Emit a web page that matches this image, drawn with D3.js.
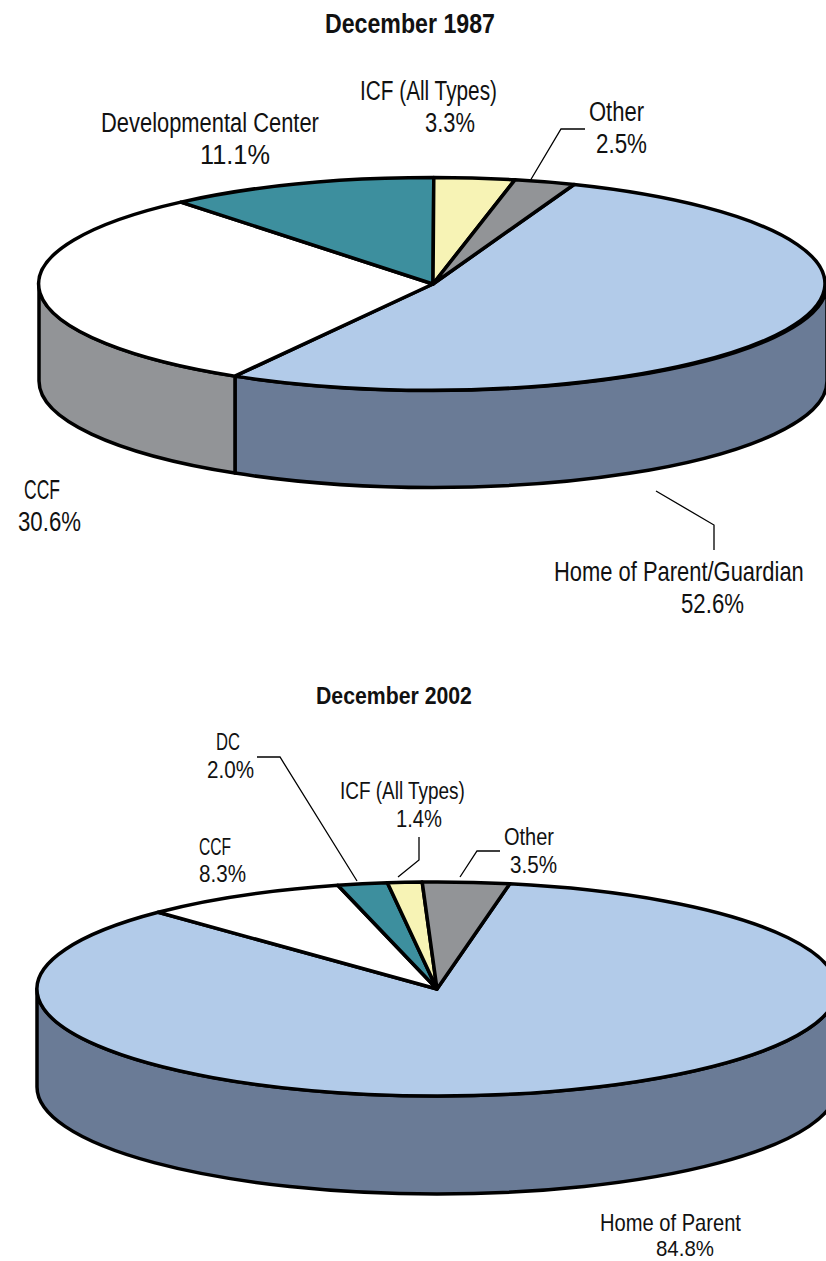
<!DOCTYPE html>
<html>
<head>
<meta charset="utf-8">
<script src="https://cdnjs.cloudflare.com/ajax/libs/d3/7.8.5/d3.min.js"></script>
<style>
  html, body { margin: 0; padding: 0; background: #fff; overflow: hidden; }
  svg { display: block; }
  text { font-family: "Liberation Sans", sans-serif; fill: #111; }
</style>
</head>
<body>
<div id="chart"></div>
<script>
// data
const categories = ["Home of Parent", "CCF", "Developmental Center", "ICF (All Types)", "Other"];
const values1987 = [52.6, 30.6, 11.1, 3.3, 2.5];
const values2002 = [84.8, 8.3, 2.0, 1.4, 3.5];
const titles = ["December 1987", "December 2002"];

// colours per category
const topColors = ["#b2cbe9", "#ffffff", "#3d8f9e", "#f7f3b5", "#929497"];
const wallColors = ["#6a7b96", "#929497", "#3d8f9e", "#f7f3b5", "#929497"];

var width = 826, height = 1261;

var svg = d3.select("#chart").append("svg")
  .attr("width", width)
  .attr("height", height);

var color = d3.scaleOrdinal().domain(categories).range(topColors);
var wallColor = d3.scaleOrdinal().domain(categories).range(wallColors);

// draws one tilted pie: a unit pie squashed with a scale transform
function drawPie(values, cx, cy, rx, ry, depth, startDeg) {
  var start = startDeg * Math.PI / 180;
  var pie = d3.pie().sort(null).startAngle(start).endAngle(start + 2 * Math.PI);
  var slices = pie(values);
  slices.forEach(function (d, i) { d.category = categories[i]; });

  var g = svg.append("g")
    .attr("transform", "translate(" + cx + "," + cy + ") scale(" + rx + "," + ry + ")");

  // side wall, only the front half of the rim can be seen
  var front0 = Math.PI / 2, front1 = 3 * Math.PI / 2;
  var drop = depth / ry;
  slices.forEach(function (d) {
    var a0 = Math.max(d.startAngle, front0), a1 = Math.min(d.endAngle, front1);
    if (a1 <= a0) return;
    var p = d3.path();
    p.arc(0, 0, 1, a0 - Math.PI / 2, a1 - Math.PI / 2);
    p.arc(0, drop, 1, a1 - Math.PI / 2, a0 - Math.PI / 2, true);
    p.closePath();
    g.append("path")
      .attr("d", p.toString())
      .attr("fill", wallColor(d.category))
      .attr("stroke", "#000")
      .attr("stroke-width", 3.5)
      .attr("stroke-linejoin", "round")
      .attr("vector-effect", "non-scaling-stroke");
  });

  // top face
  var arc = d3.arc().innerRadius(0).outerRadius(1);
  g.selectAll("path.slice")
    .data(slices)
    .enter()
    .append("path")
    .attr("class", "slice")
    .attr("d", arc)
    .attr("fill", function (d) { return color(d.category); })
    .attr("stroke", "#000")
    .attr("stroke-width", 3.5)
    .attr("stroke-linejoin", "round")
    .attr("vector-effect", "non-scaling-stroke");
}

drawPie(values1987, 433, 284, 394, 106.5, 97, 21);
drawPie(values2002, 437, 989, 400, 107, 98, 10.5);

// text label squeezed to the width measured in the picture
function label(str, x0, x1, y, size, bold) {
  var t = svg.append("text")
    .attr("font-size", size)
    .attr("font-weight", bold ? 700 : 400)
    .text(str);
  var sx = (x1 - x0) / t.node().getComputedTextLength();
  t.attr("transform", "translate(" + x0 + "," + y + ") scale(" + sx + ",1)");
}

label(titles[0], 325, 495, 33, 27, true);
label(titles[1], 316, 472, 704, 24, true);

label("Developmental Center", 101, 319, 132, 27);
label(values1987[2].toFixed(1) + "%", 200, 270, 164, 27);
label("ICF (All Types)", 360, 497, 100, 27);
label(values1987[3].toFixed(1) + "%", 425, 475, 132, 27);
label("Other", 589, 644, 121, 27);
label(values1987[4].toFixed(1) + "%", 596, 647, 153, 27);
label("CCF", 24, 60, 499, 27);
label(values1987[1].toFixed(1) + "%", 18, 81, 531, 27);
label("Home of Parent/Guardian", 554, 804, 581, 27);
label(values1987[0].toFixed(1) + "%", 681, 744, 613, 27);

label("DC", 216, 240, 750, 24);
label(values2002[2].toFixed(1) + "%", 207, 254, 778, 24);
label("ICF (All Types)", 340, 465, 799, 24);
label(values2002[3].toFixed(1) + "%", 396, 442, 827, 24);
label("CCF", 199, 231, 855, 24);
label(values2002[1].toFixed(1) + "%", 199, 246, 882, 24);
label("Other", 504, 554, 845, 24);
label(values2002[4].toFixed(1) + "%", 510, 557, 873, 24);
label("Home of Parent", 600, 741, 1231, 24);
label(values2002[0].toFixed(1) + "%", 656, 714, 1256, 22);

// leader lines
var leader = d3.line();
var leaders = [
  [[530, 181], [561, 129], [585, 129]],
  [[656, 491], [714, 525], [714, 550]],
  [[257, 757], [280, 757], [357, 881]],
  [[419, 837], [419, 860], [398, 877]],
  [[460, 877], [477, 851], [500, 851]]
];
svg.selectAll("path.leader")
  .data(leaders)
  .enter()
  .append("path")
  .attr("class", "leader")
  .attr("d", leader)
  .attr("fill", "none")
  .attr("stroke", "#000")
  .attr("stroke-width", 1.3);
</script>
</body>
</html>
